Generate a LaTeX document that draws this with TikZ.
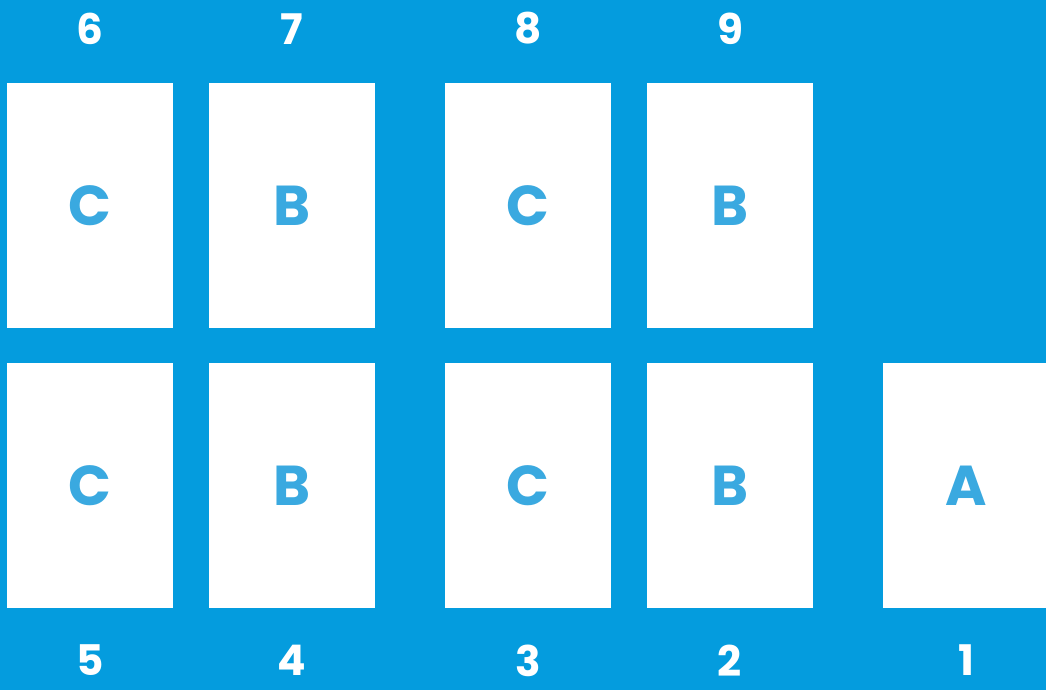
\documentclass[tikz,border=0pt]{standalone}
\usepackage{fontspec}
\setmainfont{Poppins}
\usetikzlibrary{positioning}
\definecolor{seatblue}{RGB}{4,156,222}
\definecolor{seatletter}{RGB}{58,169,224}

\begin{document}
\begin{tikzpicture}[x=0.02cm,y=-0.02cm,
  card/.style={fill=white,inner sep=0pt,minimum width=3.32cm,minimum height=4.9cm,
    text=seatletter,font=\fontsize{32}{32}\selectfont\bfseries},
  seatno/.style={inner sep=0pt,text=white,font=\fontsize{24}{24}\selectfont\bfseries}]
  \fill[seatblue] (0,0) rectangle (1046,690);
  \clip (0,0) rectangle (1046,690);

  % two rows of cards, numbers above and below
  \foreach \i/\x/\lab/\nup/\ndown in {
    1/90/C/6/5,
    2/292/B/7/4,
    3/528/C/8/3,
    4/730/B/9/2
  } {
    \node[card] (top\i) at (\x,205.5) {\lab};
    \node[card] (bot\i) at (\x,485.5) {\lab};
    \node[seatno,above=0.76cm of top\i] (up\i) {\nup};
    \node[seatno,below=0.72cm of bot\i] (down\i) {\ndown};
  }

  \node[card] (bot5) at (966,485.5) {A};
  \node[seatno,below=0.72cm of bot5] (down5) {1};
\end{tikzpicture}
\end{document}
